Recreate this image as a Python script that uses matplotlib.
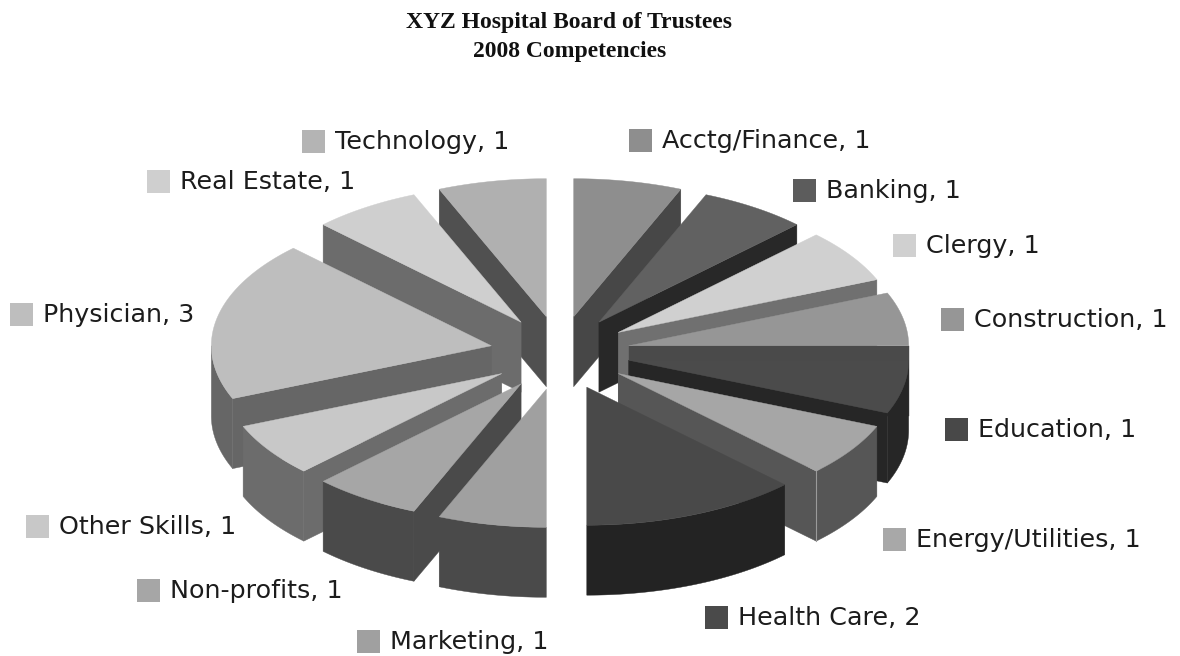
import numpy as np
import matplotlib
matplotlib.use("Agg")
import matplotlib.pyplot as plt

categories = ["Acctg/Finance", "Banking", "Clergy", "Construction", "Education",
              "Energy/Utilities", "Health Care", "Marketing", "Non-profits",
              "Other Skills", "Physician", "Real Estate", "Technology"]
values = [1, 1, 1, 1, 1, 1, 2, 1, 1, 1, 3, 1, 1]
title_lines = ["XYZ Hospital Board of Trustees", "2008 Competencies"]

top_colors = ["#8e8e8e", "#616161", "#d0d0d0", "#969696", "#4b4b4b", "#a6a6a6", "#494949",
              "#a0a0a0", "#a6a6a6", "#c8c8c8", "#bebebe", "#cfcfcf", "#b0b0b0"]
wall_colors = ["#474747", "#282828", "#707070", "#4a4a4a", "#262626", "#565656", "#232323",
               "#4a4a4a", "#4a4a4a", "#6c6c6c", "#666666", "#6c6c6c", "#505050"]
swatch_colors = ["#8e8e8e", "#5c5c5c", "#d0d0d0", "#969696", "#484848", "#a8a8a8", "#4a4a4a",
                 "#a0a0a0", "#a6a6a6", "#c8c8c8", "#bebebe", "#cfcfcf", "#b4b4b4"]
label_pos = [(629, 140), (793, 190), (893, 245), (941, 319), (945, 429), (883, 539), (705, 617),
             (357, 641), (137, 590), (26, 526), (10, 314), (147, 181), (302, 141)]

CX, CY, RX, RY = 560, 353, 280, 138
EX, EY, H = 70, 37, 70

fig = plt.figure(figsize=(11.8, 6.56), dpi=100, facecolor="white")
ax = fig.add_axes([0, 0, 1, 1])
ax.set_xlim(0, 1180)
ax.set_ylim(656, 0)
ax.axis("off")

total = sum(values)
edges = np.cumsum([0] + values) / total * 2 * np.pi


def rim(apex, t):
    return apex[0] + RX * np.sin(t), apex[1] - RY * np.cos(t)


slices = []
for i in range(len(values)):
    a0, a1 = edges[i], edges[i + 1]
    mid = (a0 + a1) / 2
    apex = (CX + EX * np.sin(mid), CY - EY * np.cos(mid))
    slices.append((apex[1], i, a0, a1, apex))

for _, i, a0, a1, apex in sorted(slices, key=lambda s: s[0]):
    wall = wall_colors[i]
    # cut faces seen from the viewer
    for ang, show in ((a0, np.sin(a0) < -1e-6), (a1, np.sin(a1) > 1e-6)):
        if show:
            rx, ry = rim(apex, ang)
            ax.fill([apex[0], rx, rx, apex[0]], [apex[1], ry, ry + H, apex[1] + H],
                    color=wall, lw=0.3, zorder=2)
    # outer wall on the front half
    lo, hi = max(a0, np.pi / 2), min(a1, 3 * np.pi / 2)
    if hi > lo:
        t = np.linspace(lo, hi, 60)
        xs, ys = rim(apex, t)
        ax.fill(np.r_[xs, xs[::-1]], np.r_[ys, ys[::-1] + H], color=wall, lw=0.3, zorder=2)
    # top face
    t = np.linspace(a0, a1, 80)
    xs, ys = rim(apex, t)
    ax.fill(np.r_[apex[0], xs], np.r_[apex[1], ys], color=top_colors[i], lw=0.3, zorder=2)
    if categories[i] == "Energy/Utilities":
        rx, ry = rim(apex, a1)
        ax.plot([rx, rx], [ry, ry + H], color="#9a9a9a", lw=0.8, zorder=2)

for name, val, col, (sx, sy) in zip(categories, values, swatch_colors, label_pos):
    ax.add_patch(plt.Rectangle((sx, sy - 11.5), 23, 23, color=col, lw=0, zorder=3))
    ax.text(sx + 33, sy + 1, f"{name}, {val}", fontsize=18.3, family="DejaVu Sans",
            color="#1c1c1c", va="center", ha="left", zorder=3)

for line, y in zip(title_lines, (28, 57)):
    ax.text(569.5, y, line, fontsize=17, family="Liberation Serif", weight="bold",
            color="#111111", va="baseline", ha="center")

fig.savefig("out.png", dpi=100, facecolor="white")
